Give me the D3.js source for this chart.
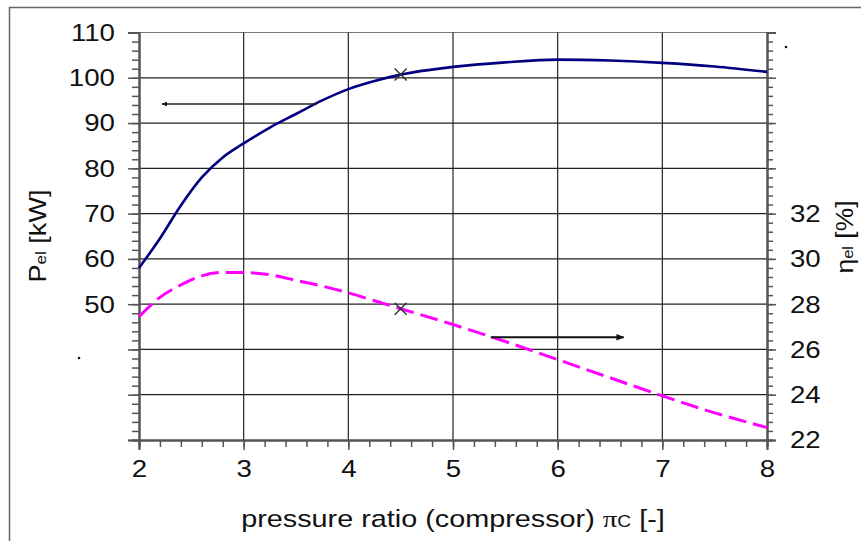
<!DOCTYPE html>
<html><head><meta charset="utf-8">
<script src="https://cdn.jsdelivr.net/npm/d3@7/dist/d3.min.js"></script>
<style>body{margin:0;background:#fff}svg{display:block;font-family:"Liberation Sans",Arial,sans-serif}</style>
</head><body><svg id="c" width="861" height="541"></svg>
<script>
const xValues   = [2, 2.2, 2.4, 2.6, 2.8, 3.0, 3.25, 3.5, 3.75, 4.0, 4.25, 4.5, 5.0, 5.5, 6.0, 6.5, 7.0, 7.5, 8.0];
const powerKW   = [58, 64.5, 71.8, 78.0, 82.4, 85.5, 89, 92, 95, 97.5, 99.3, 100.7, 102.4, 103.4, 104, 103.8, 103.3, 102.5, 101.3];
const effPct    = [27.45, 28.3, 28.85, 29.25, 29.4, 29.4, 29.3, 29.05, 28.8, 28.5, 28.15, 27.8, 27.1, 26.35, 25.55, 24.75, 23.95, 23.2, 22.55];
const markPoint = {x: 4.5, power: 100.7, eff: 27.8};
const xTicks    = [2, 3, 4, 5, 6, 7, 8];
const leftTicks = [20, 30, 40, 50, 60, 70, 80, 90, 100, 110];
const leftLabels = [50, 60, 70, 80, 90, 100, 110];
const rightLabels = [22, 24, 26, 28, 30, 32];
const arrowLeft  = {from: 3.7, to: 2.22, value: 94.2};
const arrowRight = {from: 5.36, to: 6.63, value: 26.54};

const svg = d3.select("#c");
const L = 139, R = 767, T = 32.5, B = 440;
const SX = 1.13; // horizontal text stretch of the original
const x = d3.scaleLinear().domain([2, 8]).range([L, R]);
const yL = d3.scaleLinear().domain([20, 110]).range([B, T]);
const yR = d3.scaleLinear().domain([22, 40]).range([B, T]);

// outer frame
svg.append("rect").attr("x", 9.5).attr("y", 7.5).attr("width", 860).attr("height", 560)
  .attr("fill", "none").attr("stroke", "#666").attr("stroke-width", 1.5);

// grid
const g = svg.append("g");
g.selectAll(".hg").data(leftTicks.slice(1)).join("line")
  .attr("x1", L).attr("x2", R).attr("y1", d => yL(d)).attr("y2", d => yL(d))
  .attr("stroke", d => d === 110 ? "#777" : "#222").attr("stroke-width", 1.2);
g.selectAll(".vg").data(xTicks.slice(1, -1)).join("line")
  .attr("x1", d => x(d)).attr("x2", d => x(d)).attr("y1", T).attr("y2", B)
  .attr("stroke", "#222").attr("stroke-width", 1.2);

function styleAxis(sel) {
  sel.select(".domain").attr("stroke", "#555").attr("stroke-width", 2);
  sel.selectAll(".tick line").attr("stroke", "#555").attr("stroke-width", 1.5);
  sel.selectAll("text").attr("fill", "#111").attr("font-size", 24.5)
    .attr("font-family", "Liberation Sans, Arial, sans-serif")
    .each(function () {
      const t = d3.select(this);
      const xv = +t.attr("x") || 0;
      t.attr("x", xv / SX).attr("transform", `scale(${SX},1)`);
    });
}

// left axis
svg.append("g").attr("transform", `translate(${L},0)`)
  .call(d3.axisLeft(yL).tickValues(d3.range(20, 110.01, 2)).tickSize(7).tickFormat(""))
  .call(styleAxis);
svg.append("g").attr("transform", `translate(${L},0)`)
  .call(d3.axisLeft(yL).tickValues(leftTicks).tickSize(11).tickPadding(13)
    .tickFormat(d => leftLabels.includes(d) ? d : ""))
  .call(styleAxis);

// right axis
svg.append("g").attr("transform", `translate(${R},0)`)
  .call(d3.axisRight(yR).tickValues(d3.range(22, 40.01, 0.4)).tickSize(6).tickFormat(""))
  .call(styleAxis);
svg.append("g").attr("transform", `translate(${R},0)`)
  .call(d3.axisRight(yR).tickValues(d3.range(22, 40.01, 2)).tickSize(9).tickPadding(14)
    .tickFormat(d => rightLabels.includes(d) ? d : ""))
  .call(styleAxis);

// bottom axis
svg.append("g").attr("transform", `translate(0,${B})`)
  .call(d3.axisBottom(x).tickValues(d3.range(2, 8.001, 0.2)).tickSize(7).tickFormat(""))
  .call(styleAxis);
svg.append("g").attr("transform", `translate(0,${B})`)
  .call(d3.axisBottom(x).tickValues(xTicks).tickSize(10).tickPadding(10).tickFormat(d3.format("d")))
  .call(styleAxis);

// curves
const lineP = d3.line().x((d, i) => x(xValues[i])).y(d => yL(d)).curve(d3.curveMonotoneX);
const lineE = d3.line().x((d, i) => x(xValues[i])).y(d => yR(d)).curve(d3.curveMonotoneX);
svg.append("path").attr("d", lineP(powerKW)).attr("fill", "none").attr("stroke", "#000080").attr("stroke-width", 2.6);
svg.append("path").attr("d", lineE(effPct)).attr("fill", "none").attr("stroke", "#ff00ff")
  .attr("stroke-width", 3).attr("stroke-dasharray", "18,7");

// X markers
function cross(cx, cy) {
  const s = 6;
  svg.append("path").attr("d", `M${cx - s},${cy - s}L${cx + s},${cy + s}M${cx - s},${cy + s}L${cx + s},${cy - s}`)
    .attr("stroke", "#333").attr("stroke-width", 1.4);
}
cross(x(markPoint.x), yL(markPoint.power));
cross(x(markPoint.x), yR(markPoint.eff));

// arrows
svg.append("defs").append("marker").attr("id", "ah").attr("viewBox", "0 0 10 10").attr("refX", 9).attr("refY", 5)
  .attr("markerWidth", 4).attr("markerHeight", 4).attr("orient", "auto")
  .append("path").attr("d", "M0,1L10,5L0,9Z").attr("fill", "#111");
svg.append("line").attr("x1", x(arrowLeft.from)).attr("x2", x(arrowLeft.to))
  .attr("y1", yL(arrowLeft.value)).attr("y2", yL(arrowLeft.value))
  .attr("stroke", "#222").attr("stroke-width", 1.5).attr("marker-end", "url(#ah)");
svg.append("line").attr("x1", x(arrowRight.from)).attr("x2", x(arrowRight.to))
  .attr("y1", yR(arrowRight.value)).attr("y2", yR(arrowRight.value))
  .attr("stroke", "#111").attr("stroke-width", 2).attr("marker-end", "url(#ah)");

// stray dots
svg.append("circle").attr("cx", 79).attr("cy", 358).attr("r", 1.3).attr("fill", "#111");
svg.append("circle").attr("cx", 786).attr("cy", 47).attr("r", 1.3).attr("fill", "#111");

// titles
const xt = svg.append("text").attr("transform", `translate(${(L + R) / 2},527) scale(1.2,1)`).attr("text-anchor", "middle")
  .attr("font-size", 24).attr("fill", "#111");
xt.append("tspan").text("pressure ratio (compressor) ");
xt.append("tspan").attr("font-family", "Liberation Serif, Times New Roman, serif").text("π");
xt.append("tspan").attr("font-size", 16).text("C");
xt.append("tspan").text(" [-]");

const yt = svg.append("text").attr("transform", "translate(46,236) rotate(-90) scale(1.13,1)").attr("text-anchor", "middle")
  .attr("font-size", 24).attr("fill", "#111");
yt.append("tspan").text("P");
yt.append("tspan").attr("font-size", 15).text("el");
yt.append("tspan").text(" [kW]");

const yt2 = svg.append("text").attr("transform", "translate(853,237) rotate(-90) scale(1.1,1)").attr("text-anchor", "middle")
  .attr("font-size", 24).attr("fill", "#111");
yt2.append("tspan").text("η");
yt2.append("tspan").attr("font-size", 15).text("el");
yt2.append("tspan").text(" [%]");
</script></body></html>
